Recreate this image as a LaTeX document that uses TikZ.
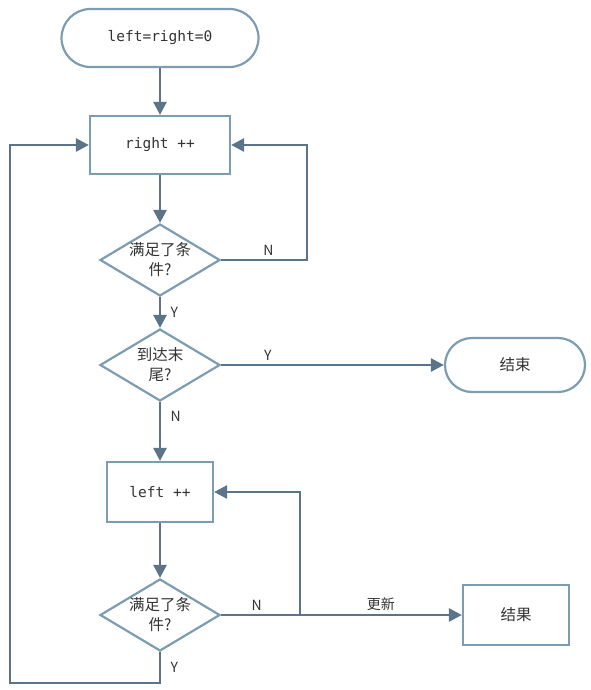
\documentclass[tikz,border=0pt]{standalone}
\usepackage{fontspec}
\setmonofont{DejaVu Sans Mono}
\newfontfamily\cjk{Noto Sans CJK SC}
\usetikzlibrary{arrows.meta,shapes.geometric}
\definecolor{nodeline}{HTML}{7C9DB1}
\definecolor{linecol}{HTML}{5B7489}
\definecolor{textcol}{HTML}{333333}

\begin{document}
\begin{tikzpicture}[x=1pt, y=-1pt,
          every node/.style={text=textcol, font=\cjk\fontsize{15.5}{20}\selectfont},
          term/.style={draw=nodeline, line width=2.2pt, rectangle, rounded corners=29pt,
                       minimum width=197pt, minimum height=58pt},
          proc/.style={draw=nodeline, line width=2.2pt, rectangle,
                       minimum width=140pt, minimum height=58pt},
          cond/.style={draw=nodeline, line width=2.2pt, diamond, aspect=1.67, inner sep=0pt,
                       minimum width=120pt, minimum height=72pt, align=center},
          code/.style={font=\ttfamily\fontsize{14.5}{17}\selectfont},
          conn/.style={draw=linecol, line width=2.6pt, -{Triangle[length=13pt,width=13pt]}},
          lbl/.style={font=\cjk\fontsize{14}{16}\selectfont}]
        \useasboundingbox (0,0) rectangle (591,690);
        \node[term, code] (start) at (160,38) {left=right=0};
        \node[proc, code] (right) at (160,145) {right ++};
        \node[cond] (c1) at (160,260) {满足了条\\件?};
        \node[cond] (c2) at (160,365) {到达末\\尾?};
        \node[term, minimum width=140pt, minimum height=54pt, rounded corners=27pt] (end) at (515,365) {结束};
        \node[proc, code, minimum width=106pt, minimum height=60pt] (left) at (160,492) {left ++};
        \node[cond] (c3) at (160,615) {满足了条\\件?};
        \node[proc, minimum width=106pt, minimum height=60pt] (res) at (516,615) {结果};
        \coordinate (r1) at (307,260);
        \coordinate (r3) at (300,615);
        \coordinate (b1) at (160,683);
        \coordinate (b2) at (10,683);
        \foreach \a/\b in {start/right, right/c1, left/c3}
            \draw[conn] (\a) -- (\b);
        \draw[conn] (c1) -- node[lbl, right=6pt] {Y} (c2);
        \draw[conn] (c1.east) -- node[lbl, above, pos=0.55] {N} (r1) |- (right.east);
        \draw[conn] (c2.east) -- node[lbl, above, pos=0.21] {Y} (end.west);
        \draw[conn] (c2) -- node[lbl, right=6pt, pos=0.25] {N} (left);
        \draw[conn] (c3.east) -- node[lbl, above, pos=0.45] {N} (r3) |- (left.east);
        \draw[conn] (r3) -- node[lbl, above] {更新} (res.west);
        \draw[conn] (c3) -- node[lbl, right=6pt] {Y} (b1) -- (b2) |- (right.west);
      \end{tikzpicture}
\end{document}
